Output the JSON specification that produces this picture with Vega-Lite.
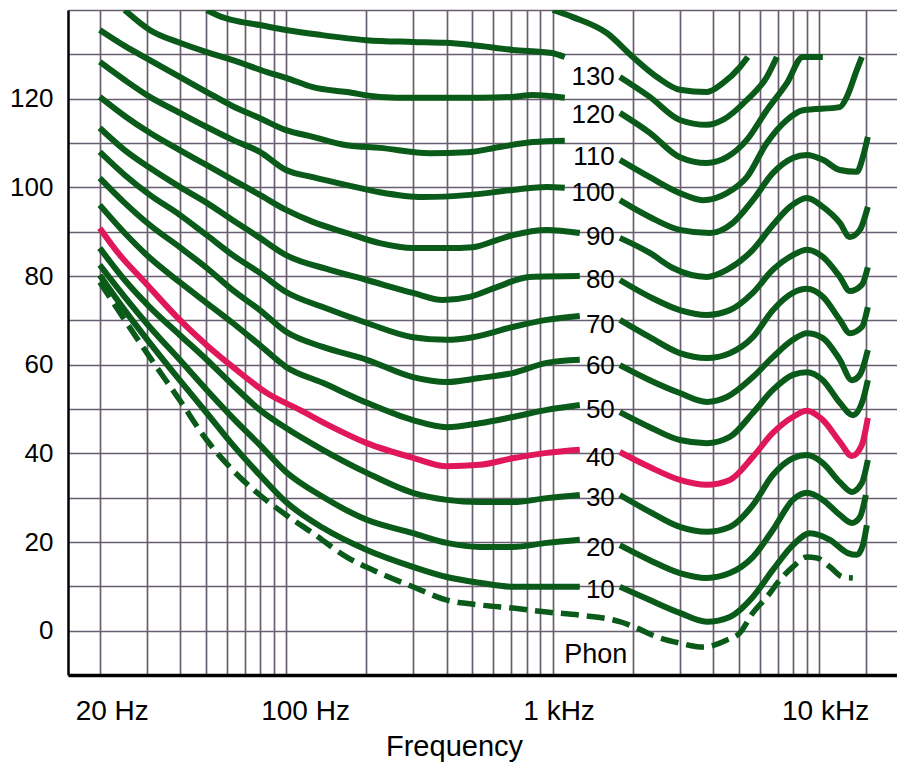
{
"$schema": "https://vega.github.io/schema/vega-lite/v6.json",
"width": 829, "height": 665,
"autosize": {"type": "none"},
"padding": {"left": 68, "top": 10, "right": 0, "bottom": 92},
"background": "white",
"config": {"view": {"stroke": null}, "font": "Liberation Sans"},
"datasets": {
"curves": [
{"curve":"130","part":"L","freq":50.4,"db":140},{"curve":"130","part":"L","freq":56.4,"db":138.6},{"curve":"130","part":"L","freq":63.1,"db":137.7},{"curve":"130","part":"L","freq":79.7,"db":136.6},{"curve":"130","part":"L","freq":100,"db":135.5},{"curve":"130","part":"L","freq":133.8,"db":134.4},{"curve":"130","part":"L","freq":200,"db":133.2},{"curve":"130","part":"L","freq":299,"db":132.8},{"curve":"130","part":"L","freq":397.5,"db":132.6},{"curve":"130","part":"L","freq":498,"db":132.1},{"curve":"130","part":"L","freq":709,"db":131.0},{"curve":"130","part":"L","freq":993,"db":130.3},{"curve":"130","part":"L","freq":1111,"db":129.4},
{"curve":"120","part":"L","freq":24.8,"db":140},{"curve":"120","part":"L","freq":30.8,"db":135.5},{"curve":"120","part":"L","freq":39.9,"db":132.6},{"curve":"120","part":"L","freq":50.4,"db":130.5},{"curve":"120","part":"L","freq":63.1,"db":128.7},{"curve":"120","part":"L","freq":84.7,"db":126.0},{"curve":"120","part":"L","freq":100,"db":124.7},{"curve":"120","part":"L","freq":126,"db":122.6},{"curve":"120","part":"L","freq":169,"db":121.5},{"curve":"120","part":"L","freq":224.7,"db":120.4},{"curve":"120","part":"L","freq":299,"db":120.2},{"curve":"120","part":"L","freq":401,"db":120.2},{"curve":"120","part":"L","freq":533,"db":120.2},{"curve":"120","part":"L","freq":709,"db":120.4},{"curve":"120","part":"L","freq":843,"db":120.8},{"curve":"120","part":"L","freq":1111,"db":120.2},
{"curve":"110","part":"L","freq":20,"db":135.5},{"curve":"110","part":"L","freq":24.8,"db":131.9},{"curve":"110","part":"L","freq":30.8,"db":128.7},{"curve":"110","part":"L","freq":39.9,"db":124.9},{"curve":"110","part":"L","freq":50.4,"db":121.5},{"curve":"110","part":"L","freq":63.1,"db":118.3},{"curve":"110","part":"L","freq":79.7,"db":115.6},{"curve":"110","part":"L","freq":100,"db":112.9},{"curve":"110","part":"L","freq":126,"db":111.4},{"curve":"110","part":"L","freq":169,"db":109.5},{"curve":"110","part":"L","freq":224.7,"db":108.9},{"curve":"110","part":"L","freq":346,"db":107.7},{"curve":"110","part":"L","freq":477,"db":107.9},{"curve":"110","part":"L","freq":634,"db":109.1},{"curve":"110","part":"L","freq":843,"db":110.2},{"curve":"110","part":"L","freq":1111,"db":110.5},
{"curve":"100","part":"L","freq":20,"db":128.3},{"curve":"100","part":"L","freq":24.8,"db":124.2},{"curve":"100","part":"L","freq":30.8,"db":120.4},{"curve":"100","part":"L","freq":39.9,"db":116.8},{"curve":"100","part":"L","freq":50.4,"db":113.6},{"curve":"100","part":"L","freq":63.1,"db":110.7},{"curve":"100","part":"L","freq":79.7,"db":108.0},{"curve":"100","part":"L","freq":100,"db":103.9},{"curve":"100","part":"L","freq":126,"db":102.3},{"curve":"100","part":"L","freq":169,"db":100.5},{"curve":"100","part":"L","freq":224.7,"db":98.9},{"curve":"100","part":"L","freq":326,"db":97.8},{"curve":"100","part":"L","freq":489,"db":98.3},{"curve":"100","part":"L","freq":709,"db":99.4},{"curve":"100","part":"L","freq":951,"db":100.1},{"curve":"100","part":"L","freq":1111,"db":99.9},
{"curve":"90","part":"L","freq":20,"db":120.4},{"curve":"90","part":"L","freq":24.8,"db":116.1},{"curve":"90","part":"L","freq":30.8,"db":112.3},{"curve":"90","part":"L","freq":39.9,"db":108.4},{"curve":"90","part":"L","freq":50.4,"db":105.0},{"curve":"90","part":"L","freq":63.1,"db":101.7},{"curve":"90","part":"L","freq":79.7,"db":98.3},{"curve":"90","part":"L","freq":100,"db":94.9},{"curve":"90","part":"L","freq":126,"db":92.2},{"curve":"90","part":"L","freq":169,"db":89.7},{"curve":"90","part":"L","freq":224.7,"db":87.4},{"curve":"90","part":"L","freq":299,"db":86.3},{"curve":"90","part":"L","freq":401,"db":86.3},{"curve":"90","part":"L","freq":502,"db":86.5},{"curve":"90","part":"L","freq":618,"db":88.1},{"curve":"90","part":"L","freq":709,"db":89.2},{"curve":"90","part":"L","freq":951,"db":90.4},{"curve":"90","part":"L","freq":1265,"db":89.7},
{"curve":"80","part":"L","freq":20,"db":113.4},{"curve":"80","part":"L","freq":24.8,"db":108.4},{"curve":"80","part":"L","freq":30.8,"db":104.4},{"curve":"80","part":"L","freq":39.9,"db":100.1},{"curve":"80","part":"L","freq":50.4,"db":96.5},{"curve":"80","part":"L","freq":63.1,"db":92.6},{"curve":"80","part":"L","freq":79.7,"db":88.6},{"curve":"80","part":"L","freq":100,"db":84.7},{"curve":"80","part":"L","freq":145.9,"db":81.4},{"curve":"80","part":"L","freq":201,"db":79.1},{"curve":"80","part":"L","freq":299,"db":76.2},{"curve":"80","part":"L","freq":387,"db":74.6},{"curve":"80","part":"L","freq":489,"db":75.3},{"curve":"80","part":"L","freq":618,"db":77.5},{"curve":"80","part":"L","freq":821,"db":79.8},{"curve":"80","part":"L","freq":1265,"db":80.0},
{"curve":"70","part":"L","freq":20,"db":108.0},{"curve":"70","part":"L","freq":24.8,"db":102.8},{"curve":"70","part":"L","freq":30.8,"db":98.3},{"curve":"70","part":"L","freq":39.9,"db":93.8},{"curve":"70","part":"L","freq":50.4,"db":89.2},{"curve":"70","part":"L","freq":63.1,"db":84.7},{"curve":"70","part":"L","freq":79.7,"db":80.7},{"curve":"70","part":"L","freq":100,"db":76.4},{"curve":"70","part":"L","freq":137.3,"db":73.0},{"curve":"70","part":"L","freq":201,"db":69.4},{"curve":"70","part":"L","freq":299,"db":66.2},{"curve":"70","part":"L","freq":401,"db":65.6},{"curve":"70","part":"L","freq":502,"db":66.2},{"curve":"70","part":"L","freq":709,"db":68.5},{"curve":"70","part":"L","freq":951,"db":70.1},{"curve":"70","part":"L","freq":1265,"db":71.0},
{"curve":"60","part":"L","freq":20,"db":102.1},{"curve":"60","part":"L","freq":24.8,"db":96.5},{"curve":"60","part":"L","freq":30.8,"db":91.5},{"curve":"60","part":"L","freq":39.9,"db":86.5},{"curve":"60","part":"L","freq":50.4,"db":81.8},{"curve":"60","part":"L","freq":63.1,"db":76.8},{"curve":"60","part":"L","freq":79.7,"db":72.3},{"curve":"60","part":"L","freq":100,"db":67.4},{"curve":"60","part":"L","freq":137.3,"db":64.0},{"curve":"60","part":"L","freq":201,"db":61.1},{"curve":"60","part":"L","freq":299,"db":57.2},{"curve":"60","part":"L","freq":401,"db":56.1},{"curve":"60","part":"L","freq":533,"db":57.0},{"curve":"60","part":"L","freq":709,"db":58.1},{"curve":"60","part":"L","freq":951,"db":60.4},{"curve":"60","part":"L","freq":1265,"db":61.1},
{"curve":"50","part":"L","freq":20,"db":96.0},{"curve":"50","part":"L","freq":24.8,"db":89.7},{"curve":"50","part":"L","freq":30.8,"db":84.1},{"curve":"50","part":"L","freq":39.9,"db":78.6},{"curve":"50","part":"L","freq":50.4,"db":73.9},{"curve":"50","part":"L","freq":63.1,"db":69.4},{"curve":"50","part":"L","freq":79.7,"db":64.4},{"curve":"50","part":"L","freq":100,"db":59.5},{"curve":"50","part":"L","freq":137.3,"db":55.9},{"curve":"50","part":"L","freq":201,"db":51.4},{"curve":"50","part":"L","freq":299,"db":47.5},{"curve":"50","part":"L","freq":401,"db":45.9},{"curve":"50","part":"L","freq":533,"db":46.8},{"curve":"50","part":"L","freq":709,"db":48.2},{"curve":"50","part":"L","freq":951,"db":49.8},{"curve":"50","part":"L","freq":1265,"db":50.9},
{"curve":"40","part":"L","freq":20,"db":90.8},{"curve":"40","part":"L","freq":23.8,"db":84.7},{"curve":"40","part":"L","freq":29.0,"db":79.1},{"curve":"40","part":"L","freq":38.9,"db":70.8},{"curve":"40","part":"L","freq":50.4,"db":64.4},{"curve":"40","part":"L","freq":63.1,"db":59.5},{"curve":"40","part":"L","freq":84.7,"db":53.6},{"curve":"40","part":"L","freq":112.6,"db":49.8},{"curve":"40","part":"L","freq":145.9,"db":46.2},{"curve":"40","part":"L","freq":201,"db":42.3},{"curve":"40","part":"L","freq":299,"db":39.0},{"curve":"40","part":"L","freq":401,"db":37.1},{"curve":"40","part":"L","freq":533,"db":37.4},{"curve":"40","part":"L","freq":709,"db":38.9},{"curve":"40","part":"L","freq":951,"db":40.1},{"curve":"40","part":"L","freq":1265,"db":40.8},
{"curve":"30","part":"L","freq":20,"db":86.3},{"curve":"30","part":"L","freq":24.8,"db":79.1},{"curve":"30","part":"L","freq":30.8,"db":73.0},{"curve":"30","part":"L","freq":39.9,"db":66.7},{"curve":"30","part":"L","freq":50.4,"db":61.1},{"curve":"30","part":"L","freq":63.1,"db":55.4},{"curve":"30","part":"L","freq":79.7,"db":49.8},{"curve":"30","part":"L","freq":100,"db":45.7},{"curve":"30","part":"L","freq":137.3,"db":40.8},{"curve":"30","part":"L","freq":201,"db":35.6},{"curve":"30","part":"L","freq":299,"db":31.1},{"curve":"30","part":"L","freq":401,"db":29.5},{"curve":"30","part":"L","freq":533,"db":29.0},{"curve":"30","part":"L","freq":709,"db":29.0},{"curve":"30","part":"L","freq":951,"db":29.9},{"curve":"30","part":"L","freq":1265,"db":30.6},
{"curve":"20","part":"L","freq":20,"db":82.5},{"curve":"20","part":"L","freq":24.8,"db":75.3},{"curve":"20","part":"L","freq":30.8,"db":68.5},{"curve":"20","part":"L","freq":39.9,"db":61.1},{"curve":"20","part":"L","freq":50.4,"db":54.3},{"curve":"20","part":"L","freq":63.1,"db":48.0},{"curve":"20","part":"L","freq":79.7,"db":41.9},{"curve":"20","part":"L","freq":100,"db":35.8},{"curve":"20","part":"L","freq":137.3,"db":30.2},{"curve":"20","part":"L","freq":201,"db":25.0},{"curve":"20","part":"L","freq":299,"db":22.0},{"curve":"20","part":"L","freq":401,"db":19.8},{"curve":"20","part":"L","freq":533,"db":18.9},{"curve":"20","part":"L","freq":709,"db":18.9},{"curve":"20","part":"L","freq":951,"db":19.8},{"curve":"20","part":"L","freq":1265,"db":20.5},
{"curve":"10","part":"L","freq":20,"db":80.2},{"curve":"10","part":"L","freq":24.8,"db":72.3},{"curve":"10","part":"L","freq":30.8,"db":64.9},{"curve":"10","part":"L","freq":39.9,"db":56.5},{"curve":"10","part":"L","freq":50.4,"db":49.1},{"curve":"10","part":"L","freq":63.1,"db":41.9},{"curve":"10","part":"L","freq":79.7,"db":35.1},{"curve":"10","part":"L","freq":100,"db":29.0},{"curve":"10","part":"L","freq":137.3,"db":23.2},{"curve":"10","part":"L","freq":201,"db":18.2},{"curve":"10","part":"L","freq":299,"db":14.4},{"curve":"10","part":"L","freq":401,"db":12.1},{"curve":"10","part":"L","freq":533,"db":10.8},{"curve":"10","part":"L","freq":709,"db":9.9},{"curve":"10","part":"L","freq":1265,"db":9.9},
{"curve":"thr","part":"L","freq":20,"db":78.6},{"curve":"thr","part":"L","freq":24.8,"db":70.1},{"curve":"thr","part":"L","freq":30.8,"db":61.7},{"curve":"thr","part":"L","freq":39.9,"db":52.0},{"curve":"thr","part":"L","freq":50.4,"db":43.0},{"curve":"thr","part":"L","freq":63.1,"db":36.2},{"curve":"thr","part":"L","freq":79.7,"db":30.6},{"curve":"thr","part":"L","freq":100,"db":26.1},{"curve":"thr","part":"L","freq":126,"db":22.0},{"curve":"thr","part":"L","freq":169,"db":16.6},{"curve":"thr","part":"L","freq":224.7,"db":13.0},{"curve":"thr","part":"L","freq":299,"db":9.9},{"curve":"thr","part":"L","freq":401,"db":6.9},{"curve":"thr","part":"L","freq":533,"db":5.8},{"curve":"thr","part":"L","freq":709,"db":5.1},{"curve":"thr","part":"L","freq":951,"db":4.2},{"curve":"thr","part":"L","freq":1265,"db":3.5},{"curve":"thr","part":"L","freq":1818,"db":1.9},{"curve":"thr","part":"L","freq":2070,"db":0.6},{"curve":"thr","part":"L","freq":2462,"db":-1.4},{"curve":"thr","part":"L","freq":3003,"db":-2.8},{"curve":"thr","part":"L","freq":3662,"db":-3.7},{"curve":"thr","part":"L","freq":4506,"db":-2.1},{"curve":"thr","part":"L","freq":5041,"db":-0.5},{"curve":"thr","part":"L","freq":5640,"db":4.0},{"curve":"thr","part":"L","freq":6366,"db":7.6},{"curve":"thr","part":"L","freq":7122,"db":11.4},{"curve":"thr","part":"L","freq":7972,"db":14.4},{"curve":"thr","part":"L","freq":8995,"db":16.6},{"curve":"thr","part":"L","freq":9806,"db":16.4},{"curve":"thr","part":"L","freq":10972,"db":14.4},{"curve":"thr","part":"L","freq":12276,"db":12.1},{"curve":"thr","part":"L","freq":13382,"db":11.9},
{"curve":"140","part":"R","freq":1002,"db":140},{"curve":"140","part":"R","freq":1191,"db":138.4},{"curve":"140","part":"R","freq":1598,"db":134.8},{"curve":"140","part":"R","freq":2000,"db":129.4},{"curve":"140","part":"R","freq":2462,"db":124.9},{"curve":"140","part":"R","freq":3003,"db":122.0},{"curve":"140","part":"R","freq":3790,"db":121.5},{"curve":"140","part":"R","freq":4352,"db":123.5},{"curve":"140","part":"R","freq":5041,"db":127.1},{"curve":"140","part":"R","freq":5402,"db":129.4},
{"curve":"130","part":"R","freq":1788,"db":124.9},{"curve":"130","part":"R","freq":2316,"db":120.4},{"curve":"130","part":"R","freq":3003,"db":115.2},{"curve":"130","part":"R","freq":3790,"db":114.1},{"curve":"130","part":"R","freq":4352,"db":115.2},{"curve":"130","part":"R","freq":5356,"db":119.7},{"curve":"130","part":"R","freq":6366,"db":124.9},{"curve":"130","part":"R","freq":6940,"db":129.4},
{"curve":"120","part":"R","freq":1788,"db":116.8},{"curve":"120","part":"R","freq":2316,"db":112.3},{"curve":"120","part":"R","freq":3003,"db":106.8},{"curve":"120","part":"R","freq":3790,"db":105.5},{"curve":"120","part":"R","freq":4506,"db":106.8},{"curve":"120","part":"R","freq":5356,"db":110.7},{"curve":"120","part":"R","freq":6366,"db":117.4},{"curve":"120","part":"R","freq":7570,"db":123.5},{"curve":"120","part":"R","freq":8690,"db":129.4},{"curve":"120","part":"R","freq":10328,"db":129.4},
{"curve":"110","part":"R","freq":1788,"db":106.2},{"curve":"110","part":"R","freq":2316,"db":102.3},{"curve":"110","part":"R","freq":3003,"db":98.7},{"curve":"110","part":"R","freq":3662,"db":97.1},{"curve":"110","part":"R","freq":4506,"db":98.7},{"curve":"110","part":"R","freq":5356,"db":102.3},{"curve":"110","part":"R","freq":6366,"db":110.0},{"curve":"110","part":"R","freq":7570,"db":115.2},{"curve":"110","part":"R","freq":8690,"db":117.4},{"curve":"110","part":"R","freq":11962,"db":118.1},{"curve":"110","part":"R","freq":12706,"db":120.4},{"curve":"110","part":"R","freq":13854,"db":126.5},{"curve":"110","part":"R","freq":14464,"db":129.4},
{"curve":"100","part":"R","freq":1788,"db":97.1},{"curve":"100","part":"R","freq":2316,"db":93.3},{"curve":"100","part":"R","freq":3003,"db":90.4},{"curve":"100","part":"R","freq":3891,"db":89.7},{"curve":"100","part":"R","freq":4746,"db":92.0},{"curve":"100","part":"R","freq":5640,"db":97.1},{"curve":"100","part":"R","freq":6704,"db":103.2},{"curve":"100","part":"R","freq":7972,"db":106.6},{"curve":"100","part":"R","freq":8995,"db":107.3},{"curve":"100","part":"R","freq":10328,"db":106.2},{"curve":"100","part":"R","freq":11962,"db":103.9},{"curve":"100","part":"R","freq":13854,"db":103.5},{"curve":"100","part":"R","freq":14590,"db":106.8},{"curve":"100","part":"R","freq":15234,"db":111.4},
{"curve":"90","part":"R","freq":1788,"db":88.6},{"curve":"90","part":"R","freq":2316,"db":85.2},{"curve":"90","part":"R","freq":2826,"db":81.8},{"curve":"90","part":"R","freq":3790,"db":79.8},{"curve":"90","part":"R","freq":4506,"db":81.4},{"curve":"90","part":"R","freq":5640,"db":85.9},{"curve":"90","part":"R","freq":6704,"db":91.5},{"curve":"90","part":"R","freq":7768,"db":95.6},{"curve":"90","part":"R","freq":8995,"db":97.6},{"curve":"90","part":"R","freq":10328,"db":95.6},{"curve":"90","part":"R","freq":11962,"db":92.0},{"curve":"90","part":"R","freq":13040,"db":88.8},{"curve":"90","part":"R","freq":14218,"db":90.4},{"curve":"90","part":"R","freq":15234,"db":95.6},
{"curve":"80","part":"R","freq":1788,"db":79.1},{"curve":"80","part":"R","freq":2316,"db":75.3},{"curve":"80","part":"R","freq":3003,"db":72.3},{"curve":"80","part":"R","freq":3790,"db":71.2},{"curve":"80","part":"R","freq":4624,"db":72.3},{"curve":"80","part":"R","freq":5640,"db":76.2},{"curve":"80","part":"R","freq":6704,"db":81.4},{"curve":"80","part":"R","freq":7972,"db":84.7},{"curve":"80","part":"R","freq":8995,"db":85.9},{"curve":"80","part":"R","freq":10328,"db":84.3},{"curve":"80","part":"R","freq":11962,"db":79.8},{"curve":"80","part":"R","freq":13040,"db":76.6},{"curve":"80","part":"R","freq":14464,"db":78.0},{"curve":"80","part":"R","freq":15234,"db":82.0},
{"curve":"70","part":"R","freq":1788,"db":70.1},{"curve":"70","part":"R","freq":2316,"db":66.2},{"curve":"70","part":"R","freq":3003,"db":62.6},{"curve":"70","part":"R","freq":3790,"db":61.5},{"curve":"70","part":"R","freq":4624,"db":62.6},{"curve":"70","part":"R","freq":5640,"db":66.2},{"curve":"70","part":"R","freq":6704,"db":72.3},{"curve":"70","part":"R","freq":7972,"db":76.2},{"curve":"70","part":"R","freq":8995,"db":77.1},{"curve":"70","part":"R","freq":10328,"db":75.3},{"curve":"70","part":"R","freq":11962,"db":70.1},{"curve":"70","part":"R","freq":13040,"db":67.1},{"curve":"70","part":"R","freq":14464,"db":68.5},{"curve":"70","part":"R","freq":15234,"db":73.0},
{"curve":"60","part":"R","freq":1788,"db":59.9},{"curve":"60","part":"R","freq":2316,"db":56.5},{"curve":"60","part":"R","freq":3003,"db":53.6},{"curve":"60","part":"R","freq":3790,"db":51.6},{"curve":"60","part":"R","freq":4506,"db":52.7},{"curve":"60","part":"R","freq":5640,"db":57.2},{"curve":"60","part":"R","freq":6704,"db":61.7},{"curve":"60","part":"R","freq":7972,"db":65.6},{"curve":"60","part":"R","freq":8995,"db":67.1},{"curve":"60","part":"R","freq":10328,"db":66.0},{"curve":"60","part":"R","freq":11962,"db":61.1},{"curve":"60","part":"R","freq":13268,"db":56.5},{"curve":"60","part":"R","freq":14218,"db":57.7},{"curve":"60","part":"R","freq":15234,"db":63.3},
{"curve":"50","part":"R","freq":1788,"db":49.3},{"curve":"50","part":"R","freq":2316,"db":45.9},{"curve":"50","part":"R","freq":3003,"db":43.0},{"curve":"50","part":"R","freq":3790,"db":42.3},{"curve":"50","part":"R","freq":4624,"db":43.7},{"curve":"50","part":"R","freq":5640,"db":49.1},{"curve":"50","part":"R","freq":6704,"db":54.3},{"curve":"50","part":"R","freq":7972,"db":57.7},{"curve":"50","part":"R","freq":8995,"db":58.3},{"curve":"50","part":"R","freq":10328,"db":56.5},{"curve":"50","part":"R","freq":11962,"db":51.4},{"curve":"50","part":"R","freq":13382,"db":48.6},{"curve":"50","part":"R","freq":14590,"db":52.0},{"curve":"50","part":"R","freq":15234,"db":56.5},
{"curve":"40","part":"R","freq":1788,"db":40.3},{"curve":"40","part":"R","freq":2316,"db":36.9},{"curve":"40","part":"R","freq":3003,"db":34.0},{"curve":"40","part":"R","freq":3790,"db":32.9},{"curve":"40","part":"R","freq":4624,"db":34.0},{"curve":"40","part":"R","freq":5640,"db":39.2},{"curve":"40","part":"R","freq":6704,"db":44.6},{"curve":"40","part":"R","freq":7972,"db":48.2},{"curve":"40","part":"R","freq":8995,"db":49.6},{"curve":"40","part":"R","freq":10328,"db":47.5},{"curve":"40","part":"R","freq":11962,"db":42.6},{"curve":"40","part":"R","freq":13268,"db":39.4},{"curve":"40","part":"R","freq":14464,"db":41.9},{"curve":"40","part":"R","freq":15234,"db":48.0},
{"curve":"30","part":"R","freq":1788,"db":30.6},{"curve":"30","part":"R","freq":2316,"db":26.8},{"curve":"30","part":"R","freq":3003,"db":23.4},{"curve":"30","part":"R","freq":3790,"db":22.3},{"curve":"30","part":"R","freq":4624,"db":23.4},{"curve":"30","part":"R","freq":5640,"db":28.3},{"curve":"30","part":"R","freq":6704,"db":35.1},{"curve":"30","part":"R","freq":7972,"db":38.9},{"curve":"30","part":"R","freq":8995,"db":39.6},{"curve":"30","part":"R","freq":10328,"db":37.8},{"curve":"30","part":"R","freq":11962,"db":33.5},{"curve":"30","part":"R","freq":13268,"db":31.3},{"curve":"30","part":"R","freq":14464,"db":33.3},{"curve":"30","part":"R","freq":15234,"db":38.5},
{"curve":"20","part":"R","freq":1788,"db":19.3},{"curve":"20","part":"R","freq":2316,"db":15.9},{"curve":"20","part":"R","freq":3003,"db":13.0},{"curve":"20","part":"R","freq":3790,"db":11.9},{"curve":"20","part":"R","freq":4624,"db":13.0},{"curve":"20","part":"R","freq":5640,"db":16.6},{"curve":"20","part":"R","freq":6704,"db":22.7},{"curve":"20","part":"R","freq":7972,"db":29.5},{"curve":"20","part":"R","freq":8995,"db":31.1},{"curve":"20","part":"R","freq":10328,"db":29.5},{"curve":"20","part":"R","freq":11962,"db":26.1},{"curve":"20","part":"R","freq":13268,"db":24.3},{"curve":"20","part":"R","freq":14218,"db":25.6},{"curve":"20","part":"R","freq":14972,"db":30.6},
{"curve":"10","part":"R","freq":1788,"db":9.9},{"curve":"10","part":"R","freq":2316,"db":6.9},{"curve":"10","part":"R","freq":3003,"db":4.0},{"curve":"10","part":"R","freq":3790,"db":2.0},{"curve":"10","part":"R","freq":4624,"db":3.1},{"curve":"10","part":"R","freq":5640,"db":7.6},{"curve":"10","part":"R","freq":6704,"db":13.7},{"curve":"10","part":"R","freq":7972,"db":19.3},{"curve":"10","part":"R","freq":9230,"db":22.0},{"curve":"10","part":"R","freq":10972,"db":20.5},{"curve":"10","part":"R","freq":12818,"db":17.5},{"curve":"10","part":"R","freq":13854,"db":17.1},{"curve":"10","part":"R","freq":14590,"db":19.3},{"curve":"10","part":"R","freq":15102,"db":23.8}
],
"labels": [
{"text":"130","freq":1712,"db":124.9},{"text":"120","freq":1712,"db":116.3},{"text":"110","freq":1712,"db":106.8},{"text":"100","freq":1712,"db":98.7},{"text":"90","freq":1712,"db":88.8},{"text":"80","freq":1712,"db":79.1},{"text":"70","freq":1712,"db":68.9},{"text":"60","freq":1712,"db":59.7},{"text":"50","freq":1712,"db":49.8},{"text":"40","freq":1712,"db":39.0},{"text":"30","freq":1712,"db":30.0},{"text":"20","freq":1712,"db":18.7},{"text":"10","freq":1712,"db":9.2}
],
"unit": [{"text":"Phon","freq":1452,"db":-5.5}]
},
"layer": [
{
"data": {"name": "curves"},
"transform": [{"filter": "datum.curve != '40' && datum.curve != 'thr'"}],
"mark": {"type": "line", "interpolate": "monotone", "strokeWidth": 6, "color": "#0a5a1a", "clip": true},
"encoding": {
"x": {"field": "freq", "type": "quantitative",
"scale": {"type": "log", "domain": [15.2, 19600], "nice": false},
"axis": {
"values": [20,30,40,50,60,70,80,90,100,200,300,400,500,600,700,800,900,1000,2000,3000,4000,5000,6000,7000,8000,9000,10000,15000],
"labelExpr": "datum.value == 20 ? '20 Hz' : datum.value == 100 ? '100 Hz' : datum.value == 1000 ? '1 kHz' : datum.value == 10000 ? '10 kHz' : ''",
"grid": true, "gridColor": "#685e70", "gridWidth": 1.7,
"ticks": false, "tickSize": 0,
"domainColor": "black", "domainWidth": 3.5,
"labelFont": "Liberation Sans", "labelFontSize": 28, "labelColor": "black",
"labelBaseline": "middle", "labelPadding": 36, "labelAlign": "center",
"labelOffset": {"condition": [{"test": "datum.value == 20", "value": 12}, {"test": "datum.value == 100", "value": 19}], "value": 6},
"labelFlush": false, "labelOverlap": false, "labelBound": false,
"title": "Frequency", "titleFont": "Liberation Sans", "titleFontSize": 29, "titleFontWeight": "normal", "titleColor": "black",
"titleX": 386, "titleY": 80, "titleBaseline": "alphabetic", "titleAlign": "center"
}},
"y": {"field": "db", "type": "quantitative",
"scale": {"domain": [-10, 140], "nice": false, "zero": false},
"axis": {
"values": [-10,0,10,20,30,40,50,60,70,80,90,100,110,120,130,140],
"labelExpr": "(datum.value >= 0 && datum.value <= 120 && datum.value % 20 == 0) ? datum.label : ''",
"grid": true, "gridColor": "#685e70", "gridWidth": 1.7,
"ticks": false, "tickSize": 0,
"domainColor": "black", "domainWidth": 2.5,
"labelFont": "Liberation Sans", "labelFontSize": 26, "labelColor": "black",
"labelBaseline": "middle", "labelPadding": 15, "labelAlign": "right",
"labelOverlap": false, "labelFlush": false, "labelBound": false,
"title": null
}},
"detail": [{"field": "curve"}, {"field": "part"}]
}
},
{
"data": {"name": "curves"},
"transform": [{"filter": "datum.curve == '40'"}],
"mark": {"type": "line", "interpolate": "monotone", "strokeWidth": 6, "color": "#e0185a", "clip": true},
"encoding": {
"x": {"field": "freq", "type": "quantitative"},
"y": {"field": "db", "type": "quantitative"},
"detail": {"field": "part"}
}
},
{
"data": {"name": "curves"},
"transform": [{"filter": "datum.curve == 'thr'"}],
"mark": {"type": "line", "interpolate": "monotone", "strokeWidth": 5.5, "color": "#0a5a1a", "strokeDash": [18, 8], "clip": true},
"encoding": {
"x": {"field": "freq", "type": "quantitative"},
"y": {"field": "db", "type": "quantitative"}
}
},
{
"data": {"name": "labels"},
"mark": {"type": "text", "align": "right", "baseline": "middle", "font": "Liberation Sans", "fontSize": 26, "color": "black"},
"encoding": {
"x": {"field": "freq", "type": "quantitative"},
"y": {"field": "db", "type": "quantitative"},
"text": {"field": "text"}
}
},
{
"data": {"name": "unit"},
"mark": {"type": "text", "align": "center", "baseline": "middle", "font": "Liberation Sans", "fontSize": 27, "color": "black"},
"encoding": {
"x": {"field": "freq", "type": "quantitative"},
"y": {"field": "db", "type": "quantitative"},
"text": {"field": "text"}
}
},
{
"mark": {"type": "rule", "color": "black", "strokeWidth": 3.5},
"encoding": {"y": {"datum": 140, "type": "quantitative"}}
}
]
}
